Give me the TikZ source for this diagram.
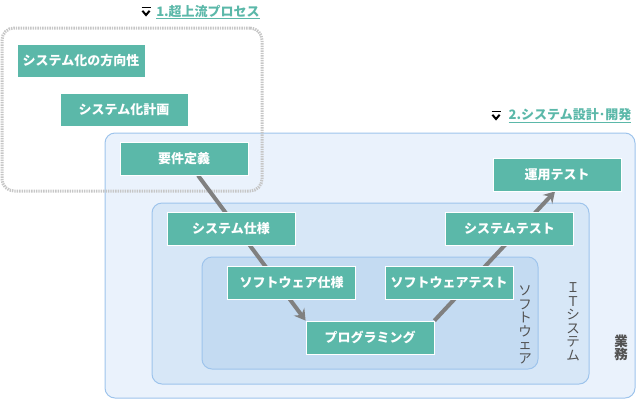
\documentclass[tikz,border=0pt]{standalone}
\usepackage{fontspec}
\setmainfont{Noto Sans CJK JP}
\usetikzlibrary{arrows.meta, positioning}
\definecolor{verde}{RGB}{91,184,169}
\definecolor{gris}{RGB}{128,128,128}
\definecolor{azula}{RGB}{234,242,252}
\definecolor{azulb}{RGB}{215,231,247}
\definecolor{azulc}{RGB}{196,219,242}
\definecolor{borde}{RGB}{158,196,236}
\pgfdeclarelayer{fondo}
\pgfdeclarelayer{lineas}
\pgfsetlayers{fondo,lineas,main}
\tikzset{
  fase/.style={rectangle, draw=white, fill=verde, line width=0.8pt,
    minimum width=128pt, minimum height=33pt, inner sep=0pt,
    text=white, font=\fontsize{13}{15}\selectfont\bfseries},
  capa/.style={rectangle, rounded corners=10pt, draw=borde, line width=1pt,
    inner sep=0pt},
  grupo/.style={rectangle, rounded corners=12pt, draw=gris!45,
    line width=3pt, dash pattern=on 1.4pt off 1pt, inner sep=0pt},
  titulo/.style={text=verde, font=\fontsize{13}{15}\selectfont\bfseries,
    inner sep=0pt},
  etiq/.style={text=black!68, font=\fontsize{13.5}{13.5}\selectfont,
    align=center, inner sep=0pt},
  flecha/.style={-{Stealth[length=11pt, width=13pt, inset=4pt]},
    line width=4pt, draw=gris},
  icono/.pic={
    \draw[line width=1.6pt] (-4.5,-4.5) -- (4.5,-4.5);
    \draw[line width=2pt] (-3.6,-1.2) -- (0,3) -- (3.6,-1.2);
  }
}
\begin{document}
\begin{tikzpicture}[x=1pt, y=-1pt]
  \useasboundingbox (0,0) rectangle (636,400);
  % contenedores
  \begin{pgfonlayer}{fondo}
    \node[capa, fill=azula, minimum width=530pt, minimum height=265pt] (gyomu) at (370,265.5) {};
    \node[capa, fill=azulb, minimum width=437pt, minimum height=181pt] (itsys) at (370.5,293.5) {};
    \node[capa, fill=azulc, minimum width=336pt, minimum height=112pt] (soft) at (370,313) {};
    \node[grupo, minimum width=260pt, minimum height=163pt] (joryu) at (132,109.5) {};
  \end{pgfonlayer}
  % titulos
  \pic at (146,12) {icono};
  \node[titulo] (tit1) at (208,12) {\underline{1.超上流プロセス}};
  \pic at (496,116) {icono};
  \node[titulo] (tit2) at (570,116) {\underline{2.システム設計･開発}};
  % fases
  \node[fase] (hoko) at (81,60.5) {システム化の方向性};
  \node[fase] (keikaku) at (124,109.5) {システム化計画};
  \node[fase] (yoken) at (184,158.5) {要件定義};
  \node[fase] (unyo) at (557,174.5) {運用テスト};
  \node[fase] (sysspec) at (231,228.5) {システム仕様};
  \node[fase] (systest) at (509.5,228.5) {システムテスト};
  \node[fase] (swspec) at (291.5,282.5) {ソフトウェア仕様};
  \node[fase] (swtest) at (449,282.5) {ソフトウェアテスト};
  \node[fase] (prog) at (370,337.5) {プログラミング};
  % etiquetas verticales
  \node[etiq] (lsoft) at (525,325) {ソ\\フ\\ト\\ウ\\ェ\\ア};
  \node[etiq] (litsys) at (573,322) {Ｉ\\Ｔ\\シ\\ス\\テ\\ム};
  \node[etiq] (lgyomu) at (621,348) {\bfseries 業\\\bfseries 務};
  % flechas
  \begin{pgfonlayer}{lineas}
    \draw[flecha] ([xshift=14pt]yoken.south) -- (prog.north west);
    \draw[flecha] (prog.north east) -- ([xshift=-2pt]unyo.south);
  \end{pgfonlayer}
\end{tikzpicture}
\end{document}
